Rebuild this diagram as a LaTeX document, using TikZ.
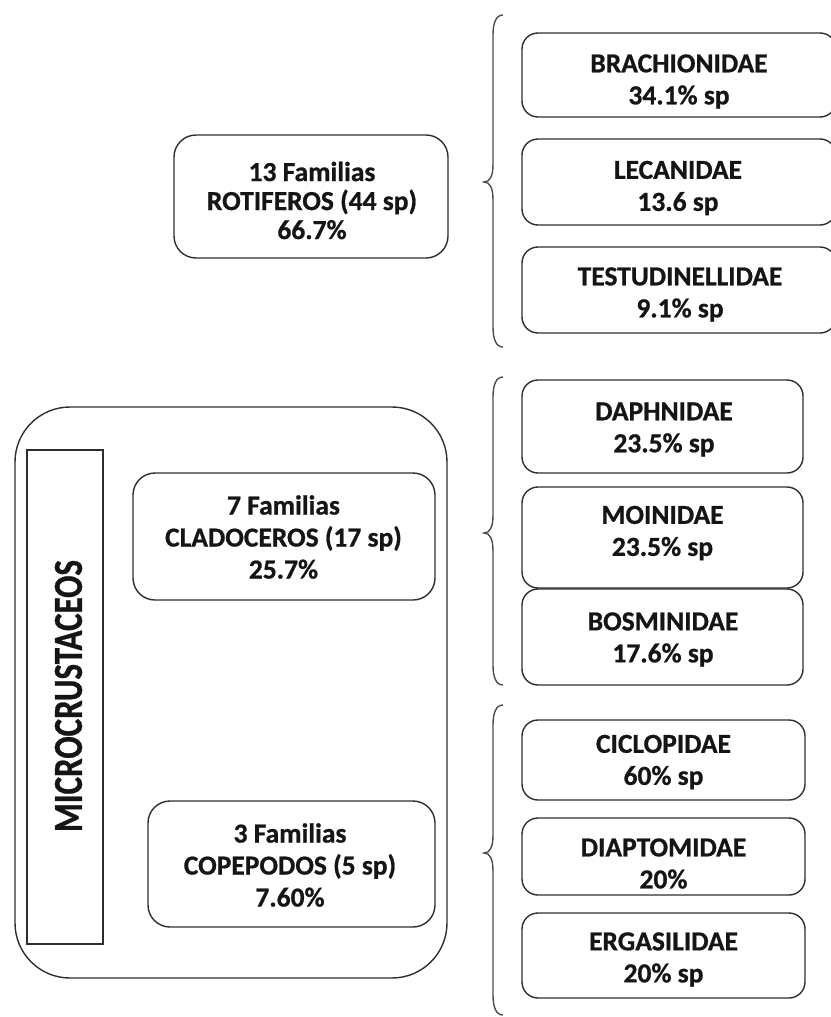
\documentclass[tikz,border=0pt]{standalone}
\usepackage{fontspec}
\setmainfont{Carlito}
\newfontfamily\boxfont{Carlito Bold}[FakeBold=0.8]
\definecolor{ink}{HTML}{151515}
\definecolor{edge}{HTML}{2E2E2E}
\tikzset{
  fambox/.style={draw=edge, line width=1.4pt, rounded corners=16pt, inner sep=0pt},
  grpbox/.style={draw=edge, line width=1.4pt, rounded corners=22pt, inner sep=0pt},
  famtext/.style={align=center, inner sep=0pt, text=ink,
    font=\fontsize{27.5}{32}\selectfont\boxfont},
  grptext/.style={align=center, inner sep=0pt, text=ink,
    font=\fontsize{27.5}{32}\selectfont\boxfont},
  outerbox/.style={draw=edge, line width=1.4pt, rounded corners=55pt, inner sep=0pt},
  sidebox/.style={draw=edge, line width=1.4pt, inner sep=0pt},
  bracepath/.style={draw=edge!85, line width=1.4pt}
}
\begin{document}
\begin{tikzpicture}[x=1pt,y=-1pt]
\useasboundingbox (0,0) rectangle (830,1017);
% ---- rotiferos
\node[grpbox, minimum width=274pt, minimum height=123pt] (rot) at (311,196.5) {};
\node[grptext, font=\fontsize{27.5}{29}\selectfont\boxfont] (rott) at (312,200.5) {13 Familias\\ROTIFEROS (44 sp)\\66.7\%};
\node[fambox, minimum width=314pt, minimum height=84pt] (brach) at (679,75) {};
\node[famtext] (bracht) at (679,81.5) {BRACHIONIDAE\\34.1\% sp};
\node[fambox, minimum width=314pt, minimum height=86pt] (lec) at (679,182) {};
\node[famtext] (lect) at (678,188) {LECANIDAE\\13.6 sp};
\node[fambox, minimum width=314pt, minimum height=86pt] (test) at (679,290) {};
\node[famtext] (testt) at (680,294.5) {TESTUDINELLIDAE\\9.1\% sp};
% ---- microcrustaceos
\node[outerbox, minimum width=432pt, minimum height=571pt] (outer) at (231,692.5) {};
\node[sidebox, minimum width=76pt, minimum height=494pt] (side) at (65,697) {};
\node[rotate=90, text=ink, inner sep=0pt] (micro) at (68.5,696)
  {\resizebox{272pt}{27pt}{\boxfont MICROCRUSTACEOS}};
\node[grpbox, minimum width=302pt, minimum height=127pt] (clad) at (284,536.5) {};
\node[grptext] (cladt) at (283.5,537) {7 Familias\\CLADOCEROS (17 sp)\\25.7\%};
\node[grpbox, minimum width=287pt, minimum height=126pt] (cope) at (291.5,864) {};
\node[grptext] (copet) at (290,865) {3 Familias\\COPEPODOS (5 sp)\\7.60\%};
% ---- cladoceros families
\node[fambox, minimum width=281pt, minimum height=93pt] (daph) at (662.5,426.5) {};
\node[famtext] (dapht) at (664,429.5) {DAPHNIDAE\\23.5\% sp};
\node[fambox, minimum width=281pt, minimum height=101pt] (moin) at (662.5,537.5) {};
\node[famtext] (moint) at (662.5,533) {MOINIDAE\\23.5\% sp};
\node[fambox, minimum width=281pt, minimum height=96pt] (bosm) at (662.5,637) {};
\node[famtext] (bosmt) at (663,639.5) {BOSMINIDAE\\17.6\% sp};
% ---- copepodos families
\node[fambox, minimum width=283pt, minimum height=80pt] (cicl) at (663.5,760) {};
\node[famtext] (ciclt) at (663.5,762) {CICLOPIDAE\\60\% sp};
\node[fambox, minimum width=283pt, minimum height=77pt] (diap) at (663.5,856.5) {};
\node[famtext] (diapt) at (663.5,863.5) {DIAPTOMIDAE\\20\%};
\node[fambox, minimum width=283pt, minimum height=85pt] (erga) at (663.5,955.5) {};
\node[famtext] (ergat) at (663.5,959.5) {ERGASILIDAE\\20\% sp};
% ---- braces
\foreach \t/\m/\b in {15/182/347, 377/533/685, 705/853/1015}{
  \draw[bracepath] (503,\t) .. controls (496,\t) and (493,\t+8) .. (493,\t+20)
    -- (493,\m-18) .. controls (493,\m-6) and (490,\m) .. (484,\m)
    .. controls (490,\m) and (493,\m+6) .. (493,\m+18)
    -- (493,\b-20) .. controls (493,\b-8) and (496,\b) .. (503,\b);
}
\end{tikzpicture}
\end{document}
